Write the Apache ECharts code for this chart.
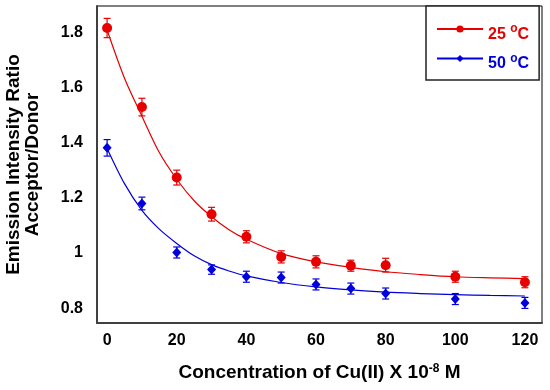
<!DOCTYPE html>
<html>
<head>
<meta charset="utf-8">
<script src="https://cdn.jsdelivr.net/npm/echarts@6/dist/echarts.min.js"></script>
<style>html,body{margin:0;padding:0;background:#fff;}#c{width:550px;height:390px;}</style>
</head>
<body>
<div id="c"></div>
<script>
// Measured data points
const concentrations = [0, 10, 20, 30, 40, 50, 60, 70, 80, 100, 120];
const ratio25 = [1.817, 1.530, 1.274, 1.141, 1.059, 0.986, 0.968, 0.954, 0.956, 0.914, 0.894];
const err25 = [0.035, 0.032, 0.027, 0.025, 0.022, 0.022, 0.022, 0.020, 0.025, 0.020, 0.020];
const ratio50 = [1.382, 1.180, 1.002, 0.940, 0.914, 0.911, 0.886, 0.871, 0.853, 0.833, 0.819];
const err50 = [0.030, 0.023, 0.020, 0.017, 0.020, 0.020, 0.020, 0.020, 0.020, 0.020, 0.020];
// Fitted curves
const fitX = [0, 5, 10, 15, 20, 25, 30, 35, 40, 50, 60, 70, 80, 90, 100, 110, 120];
const fit25 = [1.81, 1.635, 1.497, 1.365, 1.268, 1.19, 1.132, 1.085, 1.05, 0.998, 0.968, 0.948, 0.932, 0.922, 0.914, 0.910, 0.907];
const fit50 = [1.38, 1.252, 1.155, 1.087, 1.035, 0.99, 0.958, 0.935, 0.917, 0.893, 0.877, 0.866, 0.858, 0.853, 0.849, 0.846, 0.844];
// Tick labels
const xTicks = [0, 20, 40, 60, 80, 100, 120];
const yTicks = [0.8, 1, 1.2, 1.4, 1.6, 1.8];
const seriesNames = ['25 °C', '50 °C'];

const RED = '#e60000';
const BLUE = '#0000dd';
const FONT = 'Liberation Sans, Arial, sans-serif';

const pts = (xs, ys) => xs.map((x, i) => [x, ys[i]]);
const errData = (ys, es) => concentrations.map((x, i) => [x, ys[i], es[i]]);

function errRender(color) {
  return function (params, api) {
    const x = api.value(0), y = api.value(1), e = api.value(2);
    const top = api.coord([x, y + e]);
    const bot = api.coord([x, y - e]);
    const w = 3.5;
    const st = { stroke: color, lineWidth: 1.2 };
    return {
      type: 'group',
      children: [
        { type: 'line', shape: { x1: top[0], y1: top[1], x2: bot[0], y2: bot[1] }, style: st },
        { type: 'line', shape: { x1: top[0] - w, y1: top[1], x2: top[0] + w, y2: top[1] }, style: st },
        { type: 'line', shape: { x1: bot[0] - w, y1: bot[1], x2: bot[0] + w, y2: bot[1] }, style: st }
      ]
    };
  };
}

function legendRich(color) {
  return {
    m: { color: color, fontSize: 16, fontWeight: 'bold', fontFamily: FONT, lineHeight: 16, verticalAlign: 'bottom' },
    s: { color: color, fontSize: 12, fontWeight: 'bold', fontFamily: FONT, lineHeight: 27, verticalAlign: 'middle' }
  };
}
const rr = legendRich(RED), rb = legendRich(BLUE);

const chart = echarts.init(document.getElementById('c'), null, { renderer: 'canvas' });
chart.setOption({
  animation: false,
  backgroundColor: '#fff',
  textStyle: { fontFamily: FONT },
  grid: { left: 97, right: 8, top: 6, bottom: 67, show: true, borderColor: '#000', borderWidth: 1, outerBoundsMode: 'none', containLabel: false },
  xAxis: {
    type: 'value', min: -2.9, max: 124.9,
    axisLine: { onZero: false, lineStyle: { color: '#404040', width: 2 } },
    axisTick: { show: false },
    splitLine: { show: false },
    axisLabel: { customValues: xTicks, color: '#000', fontSize: 16, fontWeight: 'bold', fontFamily: FONT, margin: 10 },
    name: 'Concentration of Cu(II) X 10{s|-8} M',
    nameLocation: 'middle', nameGap: 40,
    nameTextStyle: {
      color: '#000', fontSize: 19, fontWeight: 'bold', fontFamily: FONT, lineHeight: 20,
      rich: { s: { fontSize: 12, fontWeight: 'bold', fontFamily: FONT, color: '#000', verticalAlign: 'top', lineHeight: 10 } }
    }
  },
  yAxis: {
    type: 'value', min: 0.746, max: 1.897,
    axisLine: { show: true, onZero: false, lineStyle: { color: '#404040', width: 2 } },
    axisTick: { show: false },
    splitLine: { show: false },
    axisLabel: { customValues: yTicks, color: '#000', fontSize: 16, fontWeight: 'bold', fontFamily: FONT, margin: 14 },
    name: 'Emission Intensity Ratio\nAcceptor/Donor',
    nameLocation: 'middle', nameRotate: 90, nameGap: 55,
    nameTextStyle: { color: '#000', fontSize: 19, fontWeight: 'bold', fontFamily: FONT, lineHeight: 19 }
  },
  legend: {
    data: seriesNames,
    orient: 'vertical',
    left: 426, top: 6,
    padding: [17, 10, 8, 10],
    itemWidth: 46, itemHeight: 9, itemGap: 10,
    backgroundColor: '#fff',
    borderColor: '#222', borderWidth: 1.5,
    formatter: function (name) {
      return name === seriesNames[0] ? '{rm|25 }{rs|o}{rm|C}' : '{bm|50 }{bs|o}{bm|C}';
    },
    textStyle: {
      fontFamily: FONT, fontSize: 16, fontWeight: 'bold',
      rich: { rm: rr.m, rs: rr.s, bm: rb.m, bs: rb.s }
    }
  },
  series: [
    {
      name: seriesNames[0], type: 'line', data: pts(fitX, fit25), smooth: 0.3,
      symbol: 'circle', showSymbol: false, lineStyle: { color: RED, width: 1.2 }, itemStyle: { color: RED }, z: 2
    },
    {
      name: seriesNames[1], type: 'line', data: pts(fitX, fit50), smooth: 0.3,
      symbol: 'diamond', showSymbol: false, lineStyle: { color: BLUE, width: 1.2 }, itemStyle: { color: BLUE }, z: 2
    },
    {
      name: 'err25', type: 'custom', data: errData(ratio25, err25), renderItem: errRender(RED), z: 3,
      encode: { x: 0, y: 1 }
    },
    {
      name: 'err50', type: 'custom', data: errData(ratio50, err50), renderItem: errRender(BLUE), z: 3,
      encode: { x: 0, y: 1 }
    },
    {
      name: 'pts25', type: 'scatter', data: pts(concentrations, ratio25), symbol: 'circle', symbolSize: 10,
      itemStyle: { color: RED, opacity: 1 }, z: 4
    },
    {
      name: 'pts50', type: 'scatter', data: pts(concentrations, ratio50), symbol: 'diamond', symbolSize: [9, 10],
      itemStyle: { color: BLUE, opacity: 1 }, z: 4
    }
  ]
});
</script>
</body>
</html>
